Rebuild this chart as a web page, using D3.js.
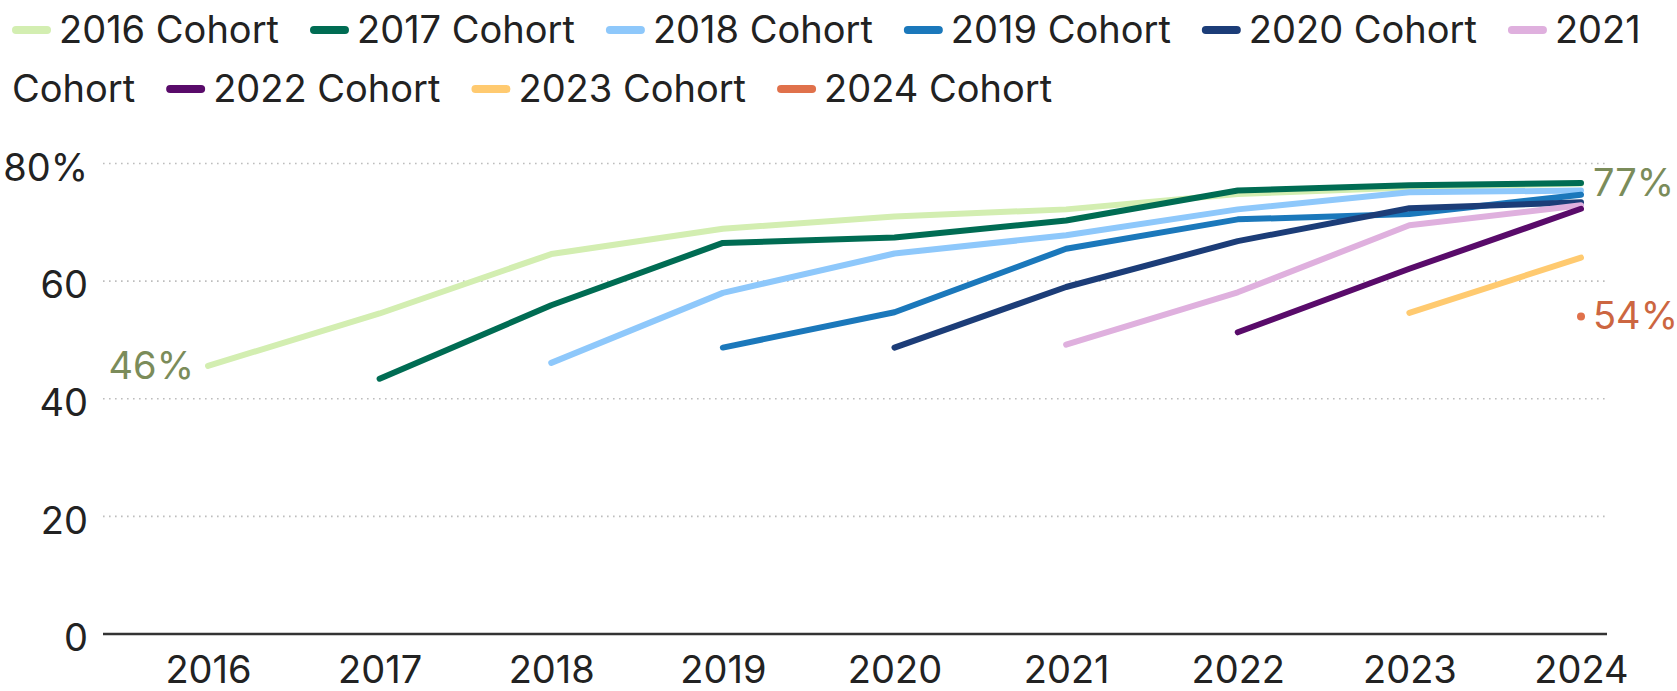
<!DOCTYPE html>
<html>
<head>
<meta charset="utf-8">
<script src="https://cdn.jsdelivr.net/npm/d3@7"></script>
<style>
  body { margin: 0; background: #fff; }
  svg { display: block; font-family: Inter, "Noto Sans", sans-serif; }
</style>
</head>
<body>
<div id="chart"></div>
<script>
// Data (percent of cohort, by year)
const years = [2016, 2017, 2018, 2019, 2020, 2021, 2022, 2023, 2024];
const cohortNames = ["2016 Cohort", "2017 Cohort", "2018 Cohort", "2019 Cohort", "2020 Cohort",
  "2021 Cohort", "2022 Cohort", "2023 Cohort", "2024 Cohort"];
const cohortColors = ["#d3eeb1", "#006c53", "#8ec8fb", "#1b78bb", "#1c3d78",
  "#dfb0de", "#590b6a", "#ffca70", "#e0714b"];
const cohort2016 = [45.6, 54.5, 64.6, 68.9, 71.0, 72.2, 74.8, 75.9, 76.6];
const cohort2017 = [43.4, 55.9, 66.5, 67.4, 70.3, 75.4, 76.3, 76.7];
const cohort2018 = [46.1, 58.0, 64.7, 67.8, 72.2, 75.1, 75.4];
const cohort2019 = [48.7, 54.7, 65.5, 70.5, 71.4, 74.7];
const cohort2020 = [48.7, 59.0, 66.8, 72.4, 73.4];
const cohort2021 = [49.2, 58.1, 69.5, 72.9];
const cohort2022 = [51.3, 62.1, 72.3];
const cohort2023 = [54.6, 64.0];
const cohort2024 = [54.0];
const yTicks = [0, 20, 40, 60, 80];

const seriesValues = [cohort2016, cohort2017, cohort2018, cohort2019, cohort2020,
  cohort2021, cohort2022, cohort2023, cohort2024];

const W = 1677, H = 691;
const plot = { left: 103, right: 1607, top: 163.5, bottom: 634 };
const fontSize = "38px";

const svg = d3.select("#chart").append("svg")
  .attr("width", W)
  .attr("height", H);

// Scales
const x = d3.scaleLinear()
  .domain([2016, 2024])
  .range([208, 1581]);

const y = d3.scaleLinear()
  .domain([0, 80])
  .range([plot.bottom, plot.top]);

// Gridlines (dotted)
svg.append("g")
  .selectAll("line")
  .data(yTicks.filter(d => d > 0))
  .join("line")
  .attr("x1", plot.left)
  .attr("x2", plot.right)
  .attr("y1", d => y(d))
  .attr("y2", d => y(d))
  .style("stroke", "#bdbdbd")
  .style("stroke-width", 1.6)
  .style("stroke-dasharray", "1.6,4.4");

// Y axis
const yAxis = svg.append("g")
  .attr("transform", `translate(${plot.left},0)`)
  .call(d3.axisLeft(y)
    .tickValues(yTicks)
    .tickFormat(d => d === 80 ? "80%" : d)
    .tickSize(0)
    .tickPadding(15));
yAxis.select(".domain").remove();
yAxis.selectAll("text")
  .attr("dy", "0.44em")
  .style("font-size", fontSize)
  .style("font-family", "Inter, sans-serif")
  .style("fill", "#222");

// X axis
const xAxis = svg.append("g")
  .attr("transform", `translate(0,${plot.bottom})`)
  .call(d3.axisBottom(x)
    .tickValues(years)
    .tickFormat(d3.format("d"))
    .tickSize(0)
    .tickPadding(22));
xAxis.select(".domain").remove();
xAxis.selectAll("text")
  .style("font-size", fontSize)
  .style("font-family", "Inter, sans-serif")
  .style("fill", "#222");

// baseline
svg.append("line")
  .attr("x1", plot.left)
  .attr("x2", plot.right)
  .attr("y1", plot.bottom)
  .attr("y2", plot.bottom)
  .style("stroke", "#333")
  .style("stroke-width", 2.5);

// Cohort lines
const line = d3.line()
  .x(d => x(d.year))
  .y(d => y(d.value));

const series = seriesValues.map((vals, i) => ({
  name: cohortNames[i],
  color: cohortColors[i],
  points: vals.map((v, j) => ({ year: years[i + j], value: v }))
}));

svg.append("g")
  .selectAll("path")
  .data(series.filter(s => s.points.length > 1))
  .join("path")
  .attr("d", d => line(d.points))
  .style("fill", "none")
  .style("stroke", d => d.color)
  .style("stroke-width", 6)
  .style("stroke-linecap", "round")
  .style("stroke-linejoin", "round");

// single-point cohort as a dot
const last = series[series.length - 1];
svg.append("circle")
  .attr("cx", x(last.points[0].year))
  .attr("cy", y(last.points[0].value))
  .attr("r", 4)
  .style("fill", last.color);

// End labels
const fmt = v => Math.round(v) + "%";
const first = series[0];
const endLabels = [
  { p: first.points[0], anchor: "end", dx: -14, color: "#7b8c5a" },
  { p: first.points[first.points.length - 1], anchor: "start", dx: 12, color: "#7b8c5a" },
  { p: last.points[0], anchor: "start", dx: 12, color: "#cc6641" }
];
svg.append("g")
  .selectAll("text")
  .data(endLabels)
  .join("text")
  .attr("x", d => x(d.p.year) + d.dx)
  .attr("y", d => y(d.p.value))
  .attr("dy", "0.34em")
  .attr("text-anchor", d => d.anchor)
  .style("font-size", fontSize)
  .style("fill", d => d.color)
  .text(d => fmt(d.p.value));

// Legend, wrapped by word like the original
const legend = svg.append("g");
const maxW = 1668;
const rowY = [43, 102];
let lx = 12, row = 0;

function measure(str) {
  const t = legend.append("text").style("font-size", fontSize).text(str);
  const w = t.node().getComputedTextLength();
  t.remove();
  return w;
}
const spaceW = measure("2016 Cohort") - measure("2016") - measure("Cohort");

series.forEach(s => {
  const words = s.name.split(" ");
  const firstW = measure(words[0]);
  if (lx + 47 + firstW > maxW) { row++; lx = 12; }
  legend.append("line")
    .attr("x1", lx + 4)
    .attr("x2", lx + 35)
    .attr("y1", rowY[row] - 13)
    .attr("y2", rowY[row] - 13)
    .style("stroke", s.color)
    .style("stroke-width", 8)
    .style("stroke-linecap", "round");
  let tx = lx + 47;
  words.forEach((w, k) => {
    const ww = measure(w);
    if (k > 0) {
      if (tx + spaceW + ww > maxW) { row++; tx = 12; }
      else tx += spaceW;
    }
    legend.append("text")
      .attr("x", tx)
      .attr("y", rowY[row])
      .style("font-size", fontSize)
      .style("fill", "#222")
      .text(w);
    tx += ww;
  });
  lx = tx + 31;
});
</script>
</body>
</html>
